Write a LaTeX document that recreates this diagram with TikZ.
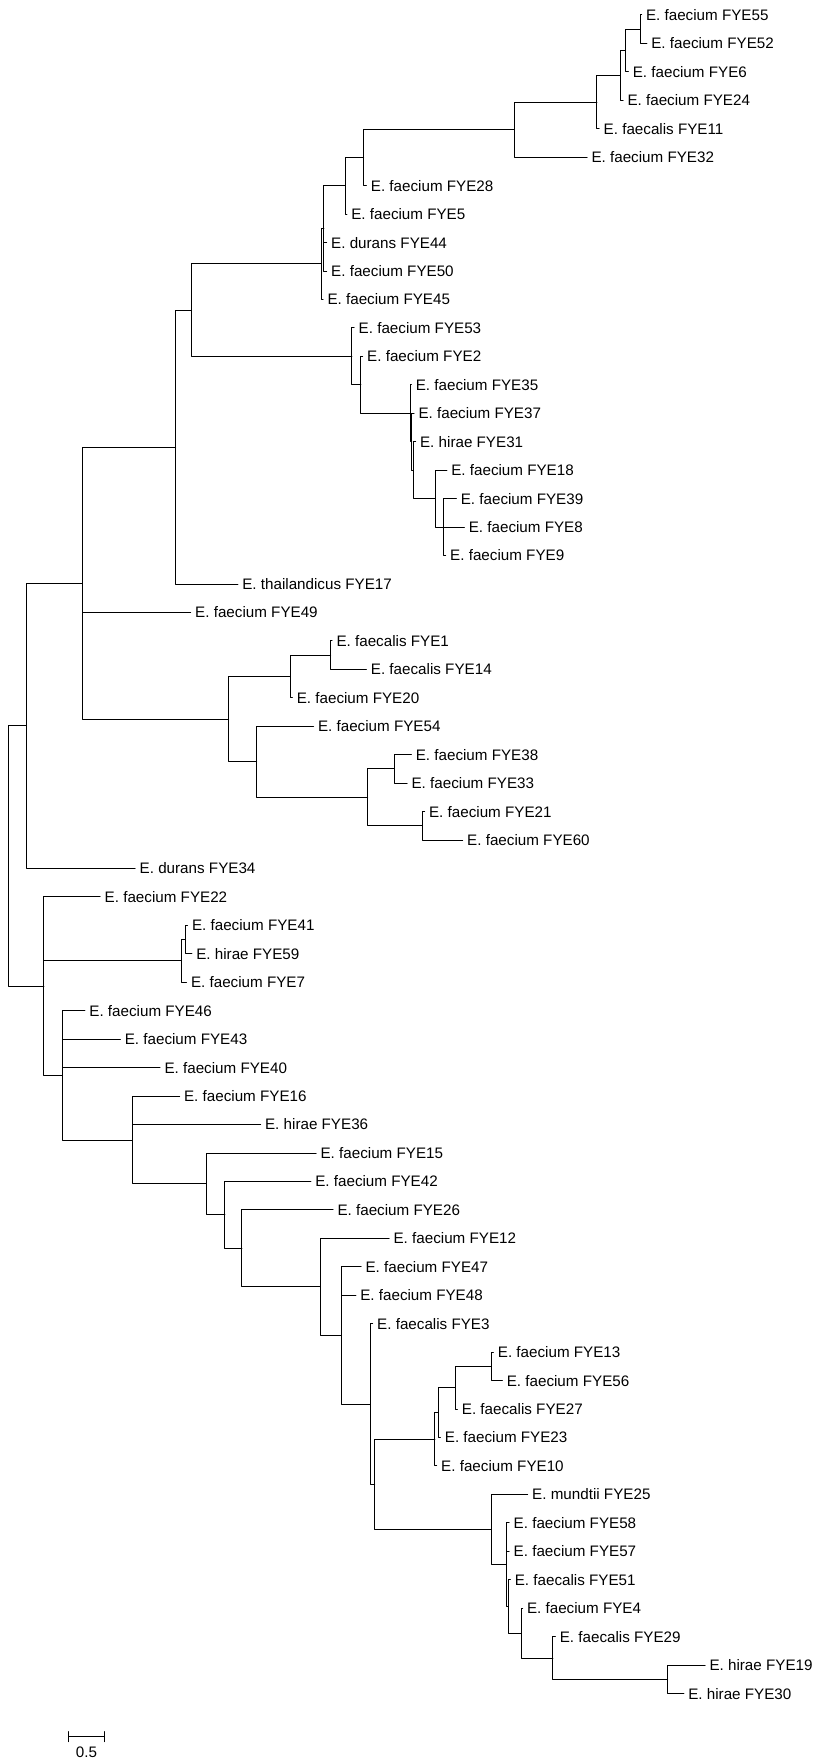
\documentclass[tikz,border=0pt]{standalone}
\usepackage{fontspec}
\setmainfont{Liberation Sans}
\begin{document}
\begin{tikzpicture}[line cap=round, line join=round, x=0.5pt, y=-0.5pt, line width=0.5pt, font=\fontsize{7.6}{9}\selectfont]
\tikzset{leaf/.style={anchor=west, inner xsep=2pt, inner ysep=0pt}}
\useasboundingbox (0,0) rectangle (827,1759);
% inner nodes of the tree
\coordinate (root) at (8,855.99);
\coordinate (a) at (26.5,725.81);
\coordinate (b) at (82,583.12);
\coordinate (c) at (175.7,447.1);
\coordinate (d) at (191.5,310.2);
\coordinate (e) at (321,263.99);
\coordinate (h) at (323.8,228.49);
\coordinate (i) at (345,185.92);
\coordinate (j) at (363.5,157.695);
\coordinate (k) at (514.3,129.689);
\coordinate (l) at (596.8,102.128);
\coordinate (m) at (620,75.456);
\coordinate (n) at (625.4,50.5625);
\coordinate (o) at (640.2,29.225);
\coordinate (g) at (351.9,356.4);
\coordinate (p) at (360.8,384.85);
\coordinate (q) at (410,413.3);
\coordinate (r) at (411.6,441.75);
\coordinate (rr) at (413.2,470.2);
\coordinate (s) at (435,498.65);
\coordinate (t) at (443.4,527.1);
\coordinate (u) at (228.6,719.14);
\coordinate (v) at (290,676.46);
\coordinate (x) at (330.7,655.125);
\coordinate (w) at (256.6,761.81);
\coordinate (y) at (367.7,797.375);
\coordinate (z1) at (394.2,768.925);
\coordinate (z2) at (422.2,825.825);
\coordinate (la) at (43.9,986.17);
\coordinate (lb) at (181.5,960.96);
\coordinate (lb2) at (185.2,939.625);
\coordinate (lc) at (62.4,1075.39);
\coordinate (ld) at (132.3,1140.03);
\coordinate (le) at (206.3,1183.96);
\coordinate (lf) at (224.9,1214.92);
\coordinate (lg) at (241.8,1248.4);
\coordinate (lh) at (320.1,1286.89);
\coordinate (li) at (341.3,1335.43);
\coordinate (lj) at (370.4,1404.05);
\coordinate (lk) at (374.6,1484.4);
\coordinate (ll) at (434.9,1439.28);
\coordinate (ln) at (438.1,1412.6);
\coordinate (lo) at (455,1387.71);
\coordinate (lp) at (491,1366.375);
\coordinate (lm) at (491,1529.52);
\coordinate (lq) at (506.3,1564.64);
\coordinate (lr) at (508,1606.42);
\coordinate (lt) at (521.2,1633.09);
\coordinate (lu) at (552.9,1657.99);
\coordinate (lv) at (667.7,1679.325);
% leaves
\node[leaf] (fye55) at (641.5,15.00) {E. faecium FYE55};
\node[leaf] (fye52) at (646.8,43.45) {E. faecium FYE52};
\node[leaf] (fye6) at (628.3,71.90) {E. faecium FYE6};
\node[leaf] (fye24) at (623,100.35) {E. faecium FYE24};
\node[leaf] (fye11) at (599.2,128.80) {E. faecalis FYE11};
\node[leaf] (fye32) at (587,157.25) {E. faecium FYE32};
\node[leaf] (fye28) at (366.4,185.70) {E. faecium FYE28};
\node[leaf] (fye5) at (346.8,214.15) {E. faecium FYE5};
\node[leaf] (fye44) at (326.7,242.60) {E. durans FYE44};
\node[leaf] (fye50) at (326.7,271.05) {E. faecium FYE50};
\node[leaf] (fye45) at (323,299.50) {E. faecium FYE45};
\node[leaf] (fye53) at (354.2,327.95) {E. faecium FYE53};
\node[leaf] (fye2) at (362.7,356.40) {E. faecium FYE2};
\node[leaf] (fye35) at (411.3,384.85) {E. faecium FYE35};
\node[leaf] (fye37) at (414,413.30) {E. faecium FYE37};
\node[leaf] (fye31) at (415.6,441.75) {E. hirae FYE31};
\node[leaf] (fye18) at (446.8,470.20) {E. faecium FYE18};
\node[leaf] (fye39) at (456.3,498.65) {E. faecium FYE39};
\node[leaf] (fye8) at (464.3,527.10) {E. faecium FYE8};
\node[leaf] (fye9) at (445.7,555.55) {E. faecium FYE9};
\node[leaf] (fye17) at (237.8,584.00) {E. thailandicus FYE17};
\node[leaf] (fye49) at (190.7,612.45) {E. faecium FYE49};
\node[leaf] (fye1) at (332,640.90) {E. faecalis FYE1};
\node[leaf] (fye14) at (366.4,669.35) {E. faecalis FYE14};
\node[leaf] (fye20) at (292.3,697.80) {E. faecium FYE20};
\node[leaf] (fye54) at (313.5,726.25) {E. faecium FYE54};
\node[leaf] (fye38) at (411.3,754.70) {E. faecium FYE38};
\node[leaf] (fye33) at (407.1,783.15) {E. faecium FYE33};
\node[leaf] (fye21) at (424.6,811.60) {E. faecium FYE21};
\node[leaf] (fye60) at (462.7,840.05) {E. faecium FYE60};
\node[leaf] (fye34) at (135.2,868.50) {E. durans FYE34};
\node[leaf] (fye22) at (100.2,896.95) {E. faecium FYE22};
\node[leaf] (fye41) at (187.5,925.40) {E. faecium FYE41};
\node[leaf] (fye59) at (191.8,953.85) {E. hirae FYE59};
\node[leaf] (fye7) at (186.5,982.30) {E. faecium FYE7};
\node[leaf] (fye46) at (84.9,1010.75) {E. faecium FYE46};
\node[leaf] (fye43) at (120.3,1039.20) {E. faecium FYE43};
\node[leaf] (fye40) at (160,1067.65) {E. faecium FYE40};
\node[leaf] (fye16) at (179.6,1096.10) {E. faecium FYE16};
\node[leaf] (fye36) at (260.6,1124.55) {E. hirae FYE36};
\node[leaf] (fye15) at (316.1,1153.00) {E. faecium FYE15};
\node[leaf] (fye42) at (310.8,1181.45) {E. faecium FYE42};
\node[leaf] (fye26) at (333,1209.90) {E. faecium FYE26};
\node[leaf] (fye12) at (389.1,1238.35) {E. faecium FYE12};
\node[leaf] (fye47) at (361.1,1266.80) {E. faecium FYE47};
\node[leaf] (fye48) at (355.8,1295.25) {E. faecium FYE48};
\node[leaf] (fye3) at (372.7,1323.70) {E. faecalis FYE3};
\node[leaf] (fye13) at (493.4,1352.15) {E. faecium FYE13};
\node[leaf] (fye56) at (502.3,1380.60) {E. faecium FYE56};
\node[leaf] (fye27) at (457.4,1409.05) {E. faecalis FYE27};
\node[leaf] (fye23) at (440.4,1437.50) {E. faecium FYE23};
\node[leaf] (fye10) at (436.7,1465.95) {E. faecium FYE10};
\node[leaf] (fye25) at (527.7,1494.40) {E. mundtii FYE25};
\node[leaf] (fye58) at (509.2,1522.85) {E. faecium FYE58};
\node[leaf] (fye57) at (509.2,1551.30) {E. faecium FYE57};
\node[leaf] (fye51) at (510.3,1579.75) {E. faecalis FYE51};
\node[leaf] (fye4) at (522.5,1608.20) {E. faecium FYE4};
\node[leaf] (fye29) at (555.3,1636.65) {E. faecalis FYE29};
\node[leaf] (fye19) at (705,1665.10) {E. hirae FYE19};
\node[leaf] (fye30) at (683.8,1693.55) {E. hirae FYE30};
% branches
\foreach \p/\c in {root/a, a/b, b/c, c/d, d/e, e/h, h/i, i/j, j/k, k/l, l/m, m/n, n/o,
  o/fye55, o/fye52, n/fye6, m/fye24, l/fye11, k/fye32, j/fye28, i/fye5, h/fye44, h/fye50, e/fye45,
  d/g, g/fye53, g/p, p/fye2, p/q, q/fye35, q/r, r/fye37, r/rr, rr/fye31, rr/s, s/fye18, s/t,
  t/fye39, t/fye8, t/fye9, c/fye17, b/fye49, b/u, u/v, v/x, x/fye1, x/fye14, v/fye20, u/w,
  w/fye54, w/y, y/z1, z1/fye38, z1/fye33, y/z2, z2/fye21, z2/fye60, a/fye34}
  \draw (\p) |- (\c);
\foreach \p/\c in {root/la, la/fye22, la/lb, lb/lb2, lb2/fye41, lb2/fye59, lb/fye7, la/lc,
  lc/fye46, lc/fye43, lc/fye40, lc/ld, ld/fye16, ld/fye36, ld/le, le/fye15, le/lf, lf/fye42,
  lf/lg, lg/fye26, lg/lh, lh/fye12, lh/li, li/fye47, li/fye48, li/lj, lj/fye3, lj/lk, lk/ll,
  ll/ln, ln/lo, lo/lp, lp/fye13, lp/fye56, lo/fye27, ln/fye23, ll/fye10, lk/lm, lm/fye25,
  lm/lq, lq/fye58, lq/fye57, lq/lr, lr/fye51, lr/lt, lt/fye4, lt/lu, lu/fye29, lu/lv,
  lv/fye19, lv/fye30}
  \draw (\p) |- (\c);
% scale bar
\coordinate (sb1) at (68.8,1736.7);
\coordinate (sb2) at (104.2,1736.7);
\draw (sb1) -- (sb2);
\draw (sb1) ++(0,-5) -- ++(0,10) (sb2) ++(0,-5) -- ++(0,10);
\node (sblab) at (86.5,1752) {0.5};
\end{tikzpicture}
\end{document}
